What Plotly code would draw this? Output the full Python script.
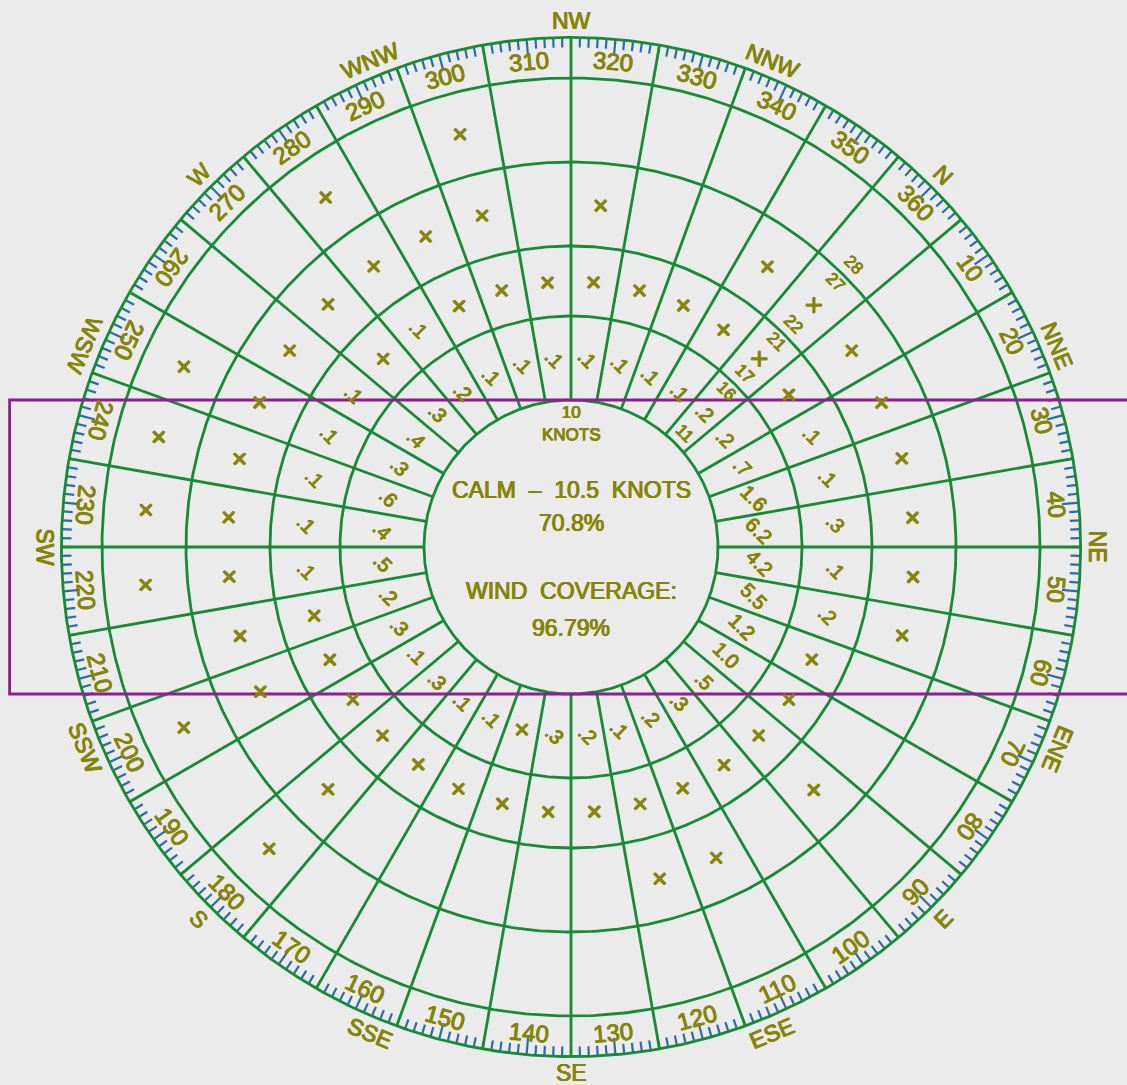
import math
import plotly.graph_objects as go

# ---------------- data ----------------
cell_directions = [10 * i for i in range(1, 37)]            # bearings (deg true) of cell centres
spoke_directions = [d - 5 for d in cell_directions]          # sector boundaries
speed_rings = [10.5, 16.5, 21.5, 27.5, 33.5]                 # knots, ring boundaries
rose_outer = 36.4                                            # knots, outer rim of the scale band

# percentage of observations per cell ("+" = trace, "" = none)
ring_11_16 = [".2", ".7", "1.6", "6.2", "4.2", "5.5", "1.2", "1.0", ".5", ".3",
              ".2", ".1", ".2", ".3", "+", ".1", ".1", ".3", ".1", ".3",
              ".2", ".5", ".4", ".6", ".3", ".4", ".3", ".2", ".1", ".1",
              ".1", ".1", ".1", ".1", ".1", ".2"]
ring_17_21 = ["+", ".1", ".1", ".3", ".1", ".2", "+", "+", "+", "+",
              "+", "+", "+", "+", "+", "+", "+", "+", "+", "+",
              "+", ".1", ".1", ".1", ".1", ".1", "+", ".1", "+", "+",
              "+", "+", "+", "+", "+", "×"]
ring_22_27 = ["+", "+", "+", "+", "+", "+", "", "", "+", "",
              "+", "+", "", "", "", "", "", "+", "", "+",
              "+", "+", "+", "+", "+", "+", "+", "+", "+", "+",
              "", "+", "", "", "+", "×"]
ring_28_33 = ["", "", "", "", "", "", "", "", "", "",
              "", "", "", "", "", "", "", "+", "", "+",
              "", "+", "+", "+", "+", "", "", "+", "", "+",
              "", "", "", "", "", ""]
ring_values = [ring_11_16, ring_17_21, ring_22_27, ring_28_33]

ring_label_text = ["11", "16", "17", "21", "22", "27", "28"]
ring_label_edge = [10.5, 16.5, 16.5, 21.5, 21.5, 27.5, 27.5]
ring_label_side = [1, -1, 1, -1, 1, -1, 1]
ring_label_bearing = 360

degree_labels = [str(d) for d in range(10, 361, 10)]
compass_labels = ["N", "NNE", "NE", "ENE", "E", "ESE", "SE", "SSE",
                  "S", "SSW", "SW", "WSW", "W", "WNW", "NW", "NNW"]

calm_text = "CALM\u00a0\u00a0–\u00a0\u00a010.5\u00a0\u00a0KNOTS"
calm_pct = "70.8%"
coverage_title = "WIND\u00a0\u00a0COVERAGE:"
coverage_pct = "96.79%"
inner_label = "10<br>KNOTS"

runway_heading = 45          # deg true
crosswind_limit = 10.5       # knots (half width of the runway band)
runway_half_length = 40.1    # knots-units

# ---------------- style / layout ----------------
TOP_BEARING = 315            # bearing drawn at the top of the rose
W, H = 1127, 1085
CX, CY = 571, 547            # pixel centre of the rose
PX_PER_KT = 14.0

BG = "#ebebeb"
GREEN = "#178a36"
OLIVE = "#85850a"
BLUE = "#2b6ca8"
PURPLE = "#8e1f8e"
FONT = "Liberation Sans, Arial, sans-serif"
THICK = ("0.45px 0 0 {c}, -0.45px 0 0 {c}, 0 0.45px 0 {c}, 0 -0.45px 0 {c}").format(c=OLIVE)


def txtfont(size):
    return dict(family=FONT, size=size, color=OLIVE, shadow=THICK)


def xy(bearing, r):
    phi = math.radians(bearing - TOP_BEARING)
    return r * math.sin(phi), r * math.cos(phi)


def norm(a):
    a = a % 360
    return a - 360 if a > 180 else a


def label_angle(b):
    b = b % 360
    if 90 <= b < 270:
        rot = b - 180
    elif b >= 270:
        rot = b - 360
    else:
        rot = b
    return norm(rot + (360 - TOP_BEARING))


fig = go.Figure()

# blue degree ticks
tx, ty = [], []
for deg in range(0, 360):
    length = 1.2 if deg % 10 == 0 else 0.72
    x0, y0 = xy(deg, rose_outer)
    x1, y1 = xy(deg, rose_outer - length)
    tx += [x0, x1, None]
    ty += [y0, y1, None]
fig.add_trace(go.Scatter(x=tx, y=ty, mode="lines",
                         line=dict(color=BLUE, width=2.2), hoverinfo="skip"))

# green rings
gx, gy = [], []
for r in speed_rings + [rose_outer]:
    for k in range(0, 721):
        x, y = xy(k * 0.5, r)
        gx.append(x)
        gy.append(y)
    gx.append(None)
    gy.append(None)
# green spokes
for b in spoke_directions:
    x0, y0 = xy(b, speed_rings[0])
    x1, y1 = xy(b, rose_outer)
    gx += [x0, x1, None]
    gy += [y0, y1, None]
fig.add_trace(go.Scatter(x=gx, y=gy, mode="lines",
                         line=dict(color=GREEN, width=2.8), hoverinfo="skip"))

# runway / crosswind band
ux, uy = xy(runway_heading, 1.0)
vx, vy = -uy, ux
corners = [(runway_half_length, crosswind_limit), (-runway_half_length, crosswind_limit),
           (-runway_half_length, -crosswind_limit), (runway_half_length, -crosswind_limit),
           (runway_half_length, crosswind_limit)]
fig.add_trace(go.Scatter(x=[a * ux + c * vx for a, c in corners],
                         y=[a * uy + c * vy for a, c in corners],
                         mode="lines", line=dict(color=PURPLE, width=2.8),
                         hoverinfo="skip"))

ann = []
cell_angle = norm(360 - TOP_BEARING)

# cell values
for ri, values in enumerate(ring_values):
    r_mid = (speed_rings[ri] + speed_rings[ri + 1]) / 2
    for b, v in zip(cell_directions, values):
        if not v:
            continue
        x, y = xy(b, r_mid)
        size = 31 if v == "+" else (28 if v == "×" else 20)
        ann.append(dict(x=x, y=y, text=v, showarrow=False, textangle=cell_angle,
                        font=txtfont(size), xanchor="center", yanchor="middle"))

# ring speed labels
for t, e, s in zip(ring_label_text, ring_label_edge, ring_label_side):
    r = e + (1.0 if s > 0 else -0.75)
    x, y = xy(ring_label_bearing, r)
    ann.append(dict(x=x, y=y, text=t, showarrow=False, textangle=cell_angle,
                    font=txtfont(17), xanchor="center", yanchor="middle"))

# degree labels
for lab in degree_labels:
    b = int(lab)
    x, y = xy(b, 34.8)
    ann.append(dict(x=x, y=y, text=lab, showarrow=False, textangle=label_angle(b),
                    font=txtfont(24), xanchor="center", yanchor="middle"))

# compass labels
for i, lab in enumerate(compass_labels):
    b = i * 22.5
    x, y = xy(b, 37.6)
    ann.append(dict(x=x, y=y, text=lab, showarrow=False, textangle=label_angle(b),
                    font=txtfont(23), xanchor="center", yanchor="middle"))

# centre texts
x, y = xy(TOP_BEARING, 8.85)
ann.append(dict(x=x, y=y, text=inner_label, showarrow=False, font=txtfont(17)))
for txt, yy in [(calm_text, 4.1), (calm_pct, 1.75), (coverage_title, -3.15), (coverage_pct, -5.8)]:
    ann.append(dict(x=0, y=yy, text=txt, showarrow=False, font=txtfont(23)))

fig.update_layout(
    width=W, height=H,
    margin=dict(l=0, r=0, t=0, b=0),
    paper_bgcolor=BG, plot_bgcolor=BG,
    showlegend=False, hovermode=False,
    xaxis=dict(range=[-CX / PX_PER_KT, (W - CX) / PX_PER_KT], visible=False, fixedrange=True),
    yaxis=dict(range=[-(H - CY) / PX_PER_KT, CY / PX_PER_KT], visible=False, fixedrange=True),
    annotations=ann,
)

fig.write_html("out.html")
